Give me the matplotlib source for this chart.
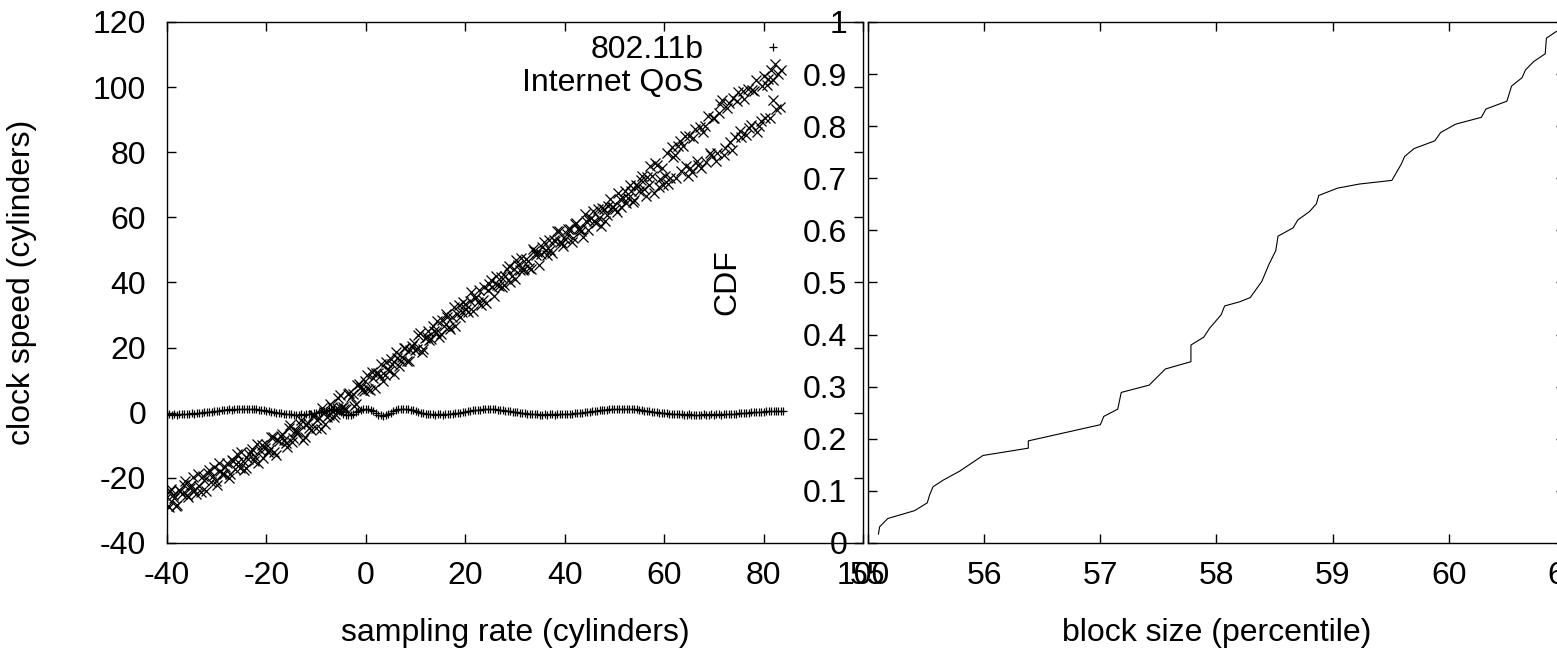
import matplotlib
matplotlib.use("Agg")
import matplotlib.pyplot as plt
from matplotlib.ticker import MultipleLocator, FuncFormatter

plt.rcParams['font.family'] = ['Liberation Sans', 'DejaVu Sans']
plt.rcParams['axes.unicode_minus'] = False

# ---- left panel: 802.11b (+) ----
wlan_x = [
    -40.0, -39.5, -39.0, -38.5, -38.0, -37.5, -37.0, -36.5, -36.0, -35.5, -35.0,
    -34.5, -34.0, -33.5, -33.0, -32.5, -32.0, -31.5, -31.0, -30.5, -30.0,
    -29.5, -29.0, -28.5, -28.0, -27.5, -27.0, -26.5, -26.0, -25.5, -25.0,
    -24.5, -24.0, -23.5, -23.0, -22.5, -22.0, -21.5, -21.0, -20.5, -20.0,
    -19.5, -19.0, -18.5, -18.0, -17.5, -17.0, -16.5, -16.0, -15.5, -15.0,
    -14.5, -14.0, -13.5, -13.0, -12.5, -12.0, -11.5, -11.0, -10.5, -10.0,
    -9.5, -9.0, -8.5, -8.0, -7.5, -7.0, -6.5, -6.0, -5.5, -5.0,
    -4.5, -4.0, -3.5, -3.0, -2.5, -2.0, -1.5, -1.0, -0.5, 0.0,
    0.5, 1.0, 1.5, 2.0, 2.5, 3.0, 3.5, 4.0, 4.5, 5.0,
    5.5, 6.0, 6.5, 7.0, 7.5, 8.0, 8.5, 9.0, 9.5, 10.0,
    10.5, 11.0, 11.5, 12.0, 12.5, 13.0, 13.5, 14.0, 14.5, 15.0,
    15.5, 16.0, 16.5, 17.0, 17.5, 18.0, 18.5, 19.0, 19.5, 20.0,
    20.5, 21.0, 21.5, 22.0, 22.5, 23.0, 23.5, 24.0, 24.5, 25.0,
    25.5, 26.0, 26.5, 27.0, 27.5, 28.0, 28.5, 29.0, 29.5, 30.0,
    30.5, 31.0, 31.5, 32.0, 32.5, 33.0, 33.5, 34.0, 34.5, 35.0,
    35.5, 36.0, 36.5, 37.0, 37.5, 38.0, 38.5, 39.0, 39.5, 40.0,
    40.5, 41.0, 41.5, 42.0, 42.5, 43.0, 43.5, 44.0, 44.5, 45.0,
    45.5, 46.0, 46.5, 47.0, 47.5, 48.0, 48.5, 49.0, 49.5, 50.0,
    50.5, 51.0, 51.5, 52.0, 52.5, 53.0, 53.5, 54.0, 54.5, 55.0,
    55.5, 56.0, 56.5, 57.0, 57.5, 58.0, 58.5, 59.0, 59.5, 60.0,
    60.5, 61.0, 61.5, 62.0, 62.5, 63.0, 63.5, 64.0, 64.5, 65.0,
    65.5, 66.0, 66.5, 67.0, 67.5, 68.0, 68.5, 69.0, 69.5, 70.0,
    70.5, 71.0, 71.5, 72.0, 72.5, 73.0, 73.5, 74.0, 74.5, 75.0,
    75.5, 76.0, 76.5, 77.0, 77.5, 78.0, 78.5, 79.0, 79.5, 80.0,
    80.5, 81.0, 81.5, 82.0, 82.5, 83.0, 83.5, 84.0,
]
wlan_y = [
    -0.6, -0.5, -0.7, -0.5, -0.6, -0.4, -0.5, -0.4, -0.3, -0.4, -0.2,
    -0.3, -0.1, -0.1, 0.0, 0.1, 0.1, 0.3, 0.2, 0.4, 0.5,
    0.5, 0.7, 0.8, 0.8, 1.0, 0.9, 1.1, 1.2, 1.1, 1.2,
    1.3, 1.2, 1.1, 1.2, 1.0, 1.1, 0.9, 0.8, 0.7, 0.6,
    0.4, 0.3, 0.2, 0.0, -0.1, -0.2, -0.4, -0.3, -0.5, -0.5,
    -0.6, -0.7, -0.6, -0.5, -0.6, -0.5, -0.4, -0.4, -0.2, -0.1,
    0.1, 0.3, 0.5, 0.6, 0.8, 0.9, 1.0, 0.9, 0.6, 0.2,
    -0.3, -0.7, -0.8, -0.6, -0.3, 0.1, 0.5, 0.9, 1.2, 1.3,
    1.1, 0.8, 0.4, -0.2, -0.6, -0.8, -0.9, -0.7, -0.4, -0.1,
    0.4, 0.8, 1.1, 1.3, 1.3, 1.2, 1.1, 0.9, 0.7, 0.4,
    0.2, 0.0, -0.2, -0.3, -0.4, -0.5, -0.5, -0.6, -0.5, -0.5,
    -0.6, -0.5, -0.4, -0.4, -0.3, -0.2, -0.1, 0.0, 0.1, 0.2,
    0.4, 0.5, 0.7, 0.8, 0.8, 0.9, 1.0, 1.1, 1.0, 1.1,
    1.0, 1.0, 0.9, 0.8, 0.8, 0.6, 0.5, 0.4, 0.3, 0.2,
    0.1, 0.0, -0.1, -0.2, -0.3, -0.4, -0.4, -0.5, -0.5, -0.6,
    -0.6, -0.5, -0.6, -0.5, -0.5, -0.6, -0.5, -0.4, -0.5, -0.5,
    -0.4, -0.3, -0.3, -0.2, -0.1, -0.1, 0.0, 0.1, 0.2, 0.3,
    0.4, 0.5, 0.6, 0.7, 0.8, 0.9, 0.9, 1.0, 1.1, 1.0,
    1.1, 1.2, 1.3, 1.2, 1.3, 1.2, 1.1, 1.1, 1.0, 0.9,
    0.8, 0.6, 0.5, 0.4, 0.3, 0.2, 0.1, 0.0, -0.1, -0.1,
    -0.2, -0.3, -0.3, -0.4, -0.5, -0.5, -0.5, -0.6, -0.6, -0.5,
    -0.6, -0.6, -0.7, -0.6, -0.6, -0.5, -0.6, -0.6, -0.5, -0.6,
    -0.5, -0.5, -0.6, -0.4, -0.5, -0.4, -0.4, -0.3, -0.3, -0.2,
    -0.2, -0.1, -0.1, 0.0, 0.1, 0.1, 0.2, 0.2, 0.3, 0.3,
    0.4, 0.4, 0.5, 0.5, 0.5, 0.6, 0.5, 0.6,
]

# ---- left panel: Internet QoS (x) ----
qos_x = [
    -40.0, -39.6, -39.1, -38.5, -37.9, -37.3, -36.6, -36.0, -35.4,
    -34.8, -34.1, -33.5, -32.8, -32.1, -31.5, -30.8, -30.2,
    -29.6, -28.9, -28.3, -27.6, -27.0, -26.3, -25.7, -25.1,
    -24.5, -23.8, -23.2, -22.5, -21.9, -21.2, -20.6, -20.0,
    -19.4, -18.7, -18.1, -17.4, -16.8, -16.1, -15.5, -14.9,
    -14.3, -13.6, -13.0, -12.3, -11.7, -11.0, -10.4,
    -9.8, -9.1, -8.5, -7.8, -7.2, -6.5, -5.9, -5.2,
    -4.6, -3.9, -3.3, -2.6, -2.0, -1.3, -0.7, -0.1,
    0.5, 1.2, 1.8, 2.5, 3.1, 3.8, 4.4,
    5.0, 5.7, 6.3, 7.0, 7.6, 8.3, 8.9, 9.6,
    10.2, 10.9, 11.5, 12.2, 12.8, 13.5, 14.1, 14.8,
    15.4, 16.1, 16.7, 17.4, 18.0, 18.7, 19.3, 19.9,
    20.6, 21.2, 21.9, 22.5, 23.2, 23.8, 24.5,
    25.1, 25.8, 26.4, 27.1, 27.7, 28.4, 29.0, 29.7,
    30.3, 31.0, 31.6, 32.3, 32.9, 33.6, 34.2, 34.9,
    35.5, 36.2, 36.8, 37.5, 38.1, 38.8, 39.4,
    40.1, 40.7, 41.4, 42.0, 42.7, 43.3, 44.0, 44.6,
    45.3, 45.9, 46.6, 47.2, 47.9, 48.5, 49.2, 49.8,
    50.5, 51.1, 51.8, 52.4, 53.1, 53.7, 54.4, 55.0,
    55.6, 56.3, 56.9, 57.6, 58.2, 58.9, 59.5, 60.2,
    60.8, 61.5, 62.1, 62.8, 63.4, 64.1, 64.7, 65.3,
    65.9, 66.6, 67.2, 67.9, 68.5, 69.2, 69.8, 70.4,
    71.0, 71.7, 72.3, 73.0, 73.6, 74.3, 74.9, 75.5,
    76.1, 76.8, 77.4, 78.1, 78.7, 79.4, 80.0, 80.6,
    81.2, 81.5, 81.9, 82.2, 82.6, 82.9, 83.3, 83.5,
    -39.7, -39.3, -38.8, -38.2, -37.6, -37.0, -36.3, -35.7, -35.1,
    -34.5, -33.8, -33.2, -32.5, -31.8, -31.2, -30.5, -29.9,
    -29.3, -28.6, -28.0, -27.3, -26.7, -26.0, -25.4, -24.8,
    -24.2, -23.5, -22.9, -22.2, -21.6, -20.9, -20.3, -19.7,
    -19.1, -18.4, -17.8, -17.1, -16.5, -15.8, -15.2, -14.6,
    -14.0, -13.3, -12.7, -12.0, -11.4, -10.7, -10.1,
    -9.5, -8.8, -8.2, -7.5, -6.9, -6.2, -5.6, -4.9,
    -4.3, -3.6, -3.0, -2.3, -1.7, -1.0, -0.4, 0.2,
    0.8, 1.5, 2.1, 2.8, 3.4, 4.1, 4.7,
    5.3, 6.0, 6.6, 7.3, 7.9, 8.6, 9.2, 9.9,
    10.5, 11.2, 11.8, 12.5, 13.1, 13.8, 14.4, 15.1,
    15.7, 16.4, 17.0, 17.7, 18.3, 19.0, 19.6, 20.2,
    20.9, 21.5, 22.2, 22.8, 23.5, 24.1, 24.8,
    25.4, 26.1, 26.7, 27.4, 28.0, 28.7, 29.3, 30.0,
    30.6, 31.3, 31.9, 32.6, 33.2, 33.9, 34.5, 35.2,
    35.8, 36.5, 37.1, 37.8, 38.4, 39.1, 39.7,
    40.4, 41.0, 41.7, 42.3, 43.0, 43.6, 44.3, 44.9,
    45.6, 46.2, 46.9, 47.5, 48.2, 48.8, 49.5, 50.1,
    50.8, 51.4, 52.1, 52.7, 53.4, 54.0, 54.7, 55.3,
    55.9, 56.6, 57.2, 57.9, 58.5, 59.2, 59.8, 60.5,
    61.1, 61.8, 62.4, 63.1, 63.7, 64.4, 65.0, 65.6,
    66.2, 66.9, 67.5, 68.2, 68.8, 69.5, 70.1, 70.7,
    71.3, 72.0, 72.6, 73.3, 73.9, 74.6, 75.2, 75.8,
    76.4, 77.1, 77.7, 78.4, 79.0, 79.7, 80.3, 80.9,
]
qos_y = [
    -25.8, -28.8, -23.5, -26.2, -28.3, -23.9, -22.1, -25.3, -23.0,
    -19.7, -24.9, -22.6, -19.5, -24.0, -17.7, -19.5, -21.1,
    -15.3, -18.7, -16.6, -20.0, -14.6, -17.2, -15.1, -12.2,
    -17.7, -14.3, -12.0, -14.8, -9.5, -11.3, -13.9, -9.7,
    -11.4, -7.6, -12.9, -8.7, -6.5, -9.3, -4.7, -9.1,
    -5.6, -5.9, -2.1, -7.4, -3.1, -5.2, -0.8,
    -2.2, -4.9, 0.2, -1.3, 2.7, -1.2, 1.4, 5.4,
    1.7, 1.1, 6.1, 5.8, 2.7, 8.8, 7.0, 9.6,
    7.2, 12.6, 7.7, 12.2, 15.0, 11.6, 13.4,
    16.5, 12.0, 16.9, 15.9, 19.9, 16.0, 19.3, 21.5,
    19.5, 24.5, 19.5, 23.4, 22.2, 26.5, 24.8, 23.2,
    28.4, 30.4, 26.4, 29.3, 26.6, 33.1, 30.9, 33.4,
    30.9, 37.1, 35.2, 34.0, 33.2, 38.5, 37.6,
    40.7, 35.9, 39.2, 41.7, 39.2, 44.0, 40.0, 44.0,
    47.0, 43.7, 43.7, 47.1, 44.5, 50.2, 48.5, 45.5,
    51.0, 50.1, 52.9, 49.0, 52.7, 55.8, 52.0,
    53.4, 56.4, 52.5, 58.0, 56.4, 55.9, 60.9, 56.1,
    59.7, 58.9, 62.5, 57.5, 62.7, 60.7, 65.5, 63.1,
    61.8, 65.7, 66.0, 64.4, 70.0, 64.7, 70.0, 68.0,
    72.7, 66.7, 69.8, 72.8, 76.6, 69.3, 75.3, 72.6,
    70.3, 81.5, 79.1, 81.9, 74.3, 84.9, 72.8, 75.3,
    84.4, 77.3, 87.9, 86.2, 77.1, 79.7, 90.6, 77.4,
    92.2, 95.9, 81.2, 95.2, 80.8, 84.7, 98.6, 84.6,
    96.2, 99.4, 88.5, 98.9, 86.2, 89.5, 103.3, 100.8,
    90.6, 105.3, 96.0, 107.0, 93.3, 103.9, 93.8, 105.2,
    -28.6, -24.0, -25.4, -28.7, -23.8, -25.1, -21.1, -25.8, -22.2,
    -23.6, -18.8, -24.3, -20.8, -18.6, -21.4, -16.8, -22.2,
    -18.0, -18.8, -15.3, -18.8, -14.9, -12.8, -16.9, -14.8,
    -17.0, -12.6, -11.0, -13.5, -15.3, -9.8, -10.7, -12.1,
    -7.5, -12.1, -8.4, -7.1, -8.4, -10.5, -3.9, -7.8,
    -5.9, -3.6, -8.3, -3.5, -4.6, -0.9, -4.8,
    -1.6, 1.5, -3.5, -0.6, 1.8, -0.4, 4.4, 1.6,
    1.0, 5.7, 4.8, 2.1, 8.5, 8.0, 6.6, 11.5,
    7.0, 10.7, 12.1, 11.4, 9.6, 15.6, 12.9,
    15.1, 18.7, 14.5, 17.0, 19.8, 16.0, 20.4, 19.3,
    23.8, 18.7, 23.0, 25.1, 22.6, 25.1, 28.2, 24.2,
    26.5, 29.5, 25.6, 32.5, 30.3, 29.3, 34.1, 32.0,
    34.3, 31.3, 35.6, 37.6, 34.7, 33.7, 39.5,
    38.7, 42.0, 38.8, 38.6, 41.9, 45.2, 42.0, 41.1,
    45.4, 47.4, 44.1, 46.5, 44.1, 49.7, 49.4, 48.9,
    52.5, 48.4, 49.9, 53.2, 55.7, 52.3, 51.2,
    54.8, 56.5, 53.6, 58.3, 56.5, 54.0, 59.0, 59.1,
    62.0, 58.4, 59.8, 63.0, 58.9, 63.6, 63.2, 62.6,
    67.4, 63.2, 68.1, 66.0, 68.2, 65.2, 69.5, 71.4,
    68.7, 72.3, 75.7, 67.6, 76.2, 71.7, 69.8, 79.8,
    72.2, 78.6, 72.1, 83.4, 81.8, 75.8, 84.9, 73.9,
    87.2, 76.2, 75.1, 88.0, 91.1, 79.1, 90.5, 79.7,
    94.7, 79.1, 93.7, 83.3, 96.8, 95.7, 86.4, 98.9,
    85.2, 87.6, 99.1, 102.3, 88.0, 100.3, 90.6, 102.5,
]

# ---- right panel: CDF of block size ----
block_size = [
    55.09, 55.10, 55.17, 55.40, 55.51, 55.53, 55.56, 55.65, 55.79, 55.99,
    56.38, 56.38, 57.00, 57.03, 57.15, 57.18, 57.42, 57.56, 57.78, 57.78,
    57.89, 57.94, 58.04, 58.07, 58.20, 58.29, 58.39, 58.45, 58.51, 58.53,
    58.66, 58.70, 58.80, 58.86, 58.88, 59.04, 59.23, 59.51, 59.59, 59.62,
    59.70, 59.88, 59.93, 60.06, 60.28, 60.32, 60.50, 60.54, 60.63, 60.66,
    60.73, 60.83, 60.84, 60.92, 61.00,
]
cdf = [
    0.017, 0.031, 0.047, 0.062, 0.077, 0.092, 0.108, 0.121, 0.138, 0.168,
    0.182, 0.196, 0.227, 0.243, 0.257, 0.289, 0.303, 0.334, 0.348, 0.380,
    0.395, 0.412, 0.438, 0.455, 0.463, 0.471, 0.502, 0.534, 0.561, 0.589,
    0.605, 0.620, 0.636, 0.651, 0.667, 0.681, 0.689, 0.696, 0.727, 0.742,
    0.757, 0.772, 0.788, 0.804, 0.817, 0.833, 0.848, 0.877, 0.893, 0.908,
    0.924, 0.939, 0.969, 0.981, 0.990,
]

FS = 23
fig = plt.figure(figsize=(15.57, 6.48), dpi=100)
ax1 = fig.add_axes([0.10726, 0.16204, 0.44701, 0.80401])
ax2 = fig.add_axes([0.55748, 0.16204, 0.44765, 0.80401])

h_wlan, = ax1.plot(wlan_x, wlan_y, linestyle='none', marker='+', ms=6,
                   mew=0.9, color='black', label='802.11b')
h_qos, = ax1.plot(qos_x, qos_y, linestyle='none', marker='x', ms=7.2,
                  mew=0.9, color='black', label='Internet QoS')
ax1.set_xlim(-40, 100)
ax1.set_ylim(-40, 120)
ax1.xaxis.set_major_locator(MultipleLocator(20))
ax1.yaxis.set_major_locator(MultipleLocator(20))
ax1.set_xlabel('sampling rate (cylinders)', fontsize=FS, va='center')
ax1.set_ylabel('clock speed (cylinders)', fontsize=FS, va='center')
ax1.xaxis.set_label_coords(0.5, -0.1727)
ax1.yaxis.set_label_coords(-0.2083, 0.5)
ax1.legend(handles=[h_wlan, h_qos], markerfirst=False, frameon=False,
           loc='upper right', bbox_to_anchor=(0.916, 0.975),
           borderaxespad=0, borderpad=0, handlelength=2.0,
           handletextpad=1.15, labelspacing=0.1, fontsize=FS)

ax2.plot(block_size, cdf, color='black', lw=0.8)
ax2.set_xlim(55, 61)
ax2.set_ylim(0, 1)
ax2.xaxis.set_major_locator(MultipleLocator(1))
ax2.yaxis.set_major_locator(MultipleLocator(0.1))
ax2.yaxis.set_major_formatter(FuncFormatter(lambda v, p: f'{v:g}'))
ax2.set_xlabel('block size (percentile)', fontsize=FS, va='center')
ax2.set_ylabel('CDF', fontsize=FS, va='center')
ax2.xaxis.set_label_coords(0.5, -0.1727)
ax2.yaxis.set_label_coords(-0.2023, 0.5)

for ax in (ax1, ax2):
    ax.set_facecolor('none')
    for s in ax.spines.values():
        s.set_linewidth(1.0)
    ax.tick_params(axis='both', which='major', direction='in', length=6.5,
                   width=1.0, top=True, right=True, labelsize=FS)
    ax.tick_params(axis='x', pad=13)
    ax.tick_params(axis='y', pad=15)

fig.savefig('out.png', dpi=100)
